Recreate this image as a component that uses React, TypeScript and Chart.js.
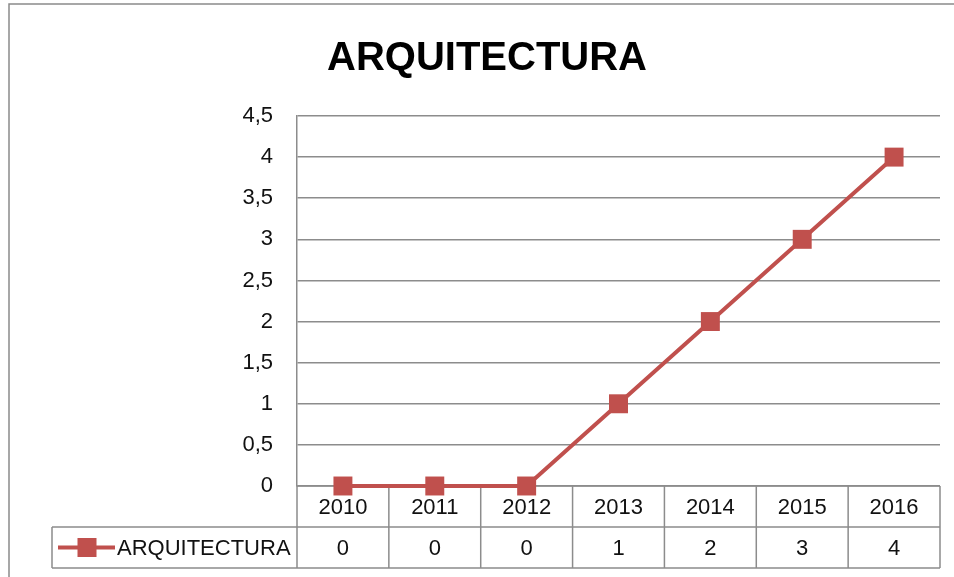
import React, { useEffect, useRef } from "react";
import { Chart, registerables } from "chart.js";

Chart.register(...registerables);

const title = "ARQUITECTURA";
const seriesName = "ARQUITECTURA";
const years = ["2010", "2011", "2012", "2013", "2014", "2015", "2016"];
const values = [0, 0, 0, 1, 2, 3, 4];
const yMin = 0;
const yMax = 4.5;
const yStep = 0.5;

const LINE_COLOR = "#C0504D";
const GRID_COLOR = "#8C8C8C";
const FONT = "Liberation Sans";
const FONT_SIZE = 22;

const tablePlugin = {
  id: "dataTable",
  beforeDatasetsDraw(chart: any) {
    const ctx = chart.ctx;
    const area = chart.chartArea;
    const xs = chart.scales.x;
    const rowH = 41;
    const legendLeft = 52;
    const colW = xs.getPixelForValue(1) - xs.getPixelForValue(0);
    const top = area.bottom;
    const r1 = top + rowH;
    const r2 = r1 + rowH;
    ctx.save();
    ctx.strokeStyle = GRID_COLOR;
    ctx.lineWidth = 1.5;
    ctx.beginPath();
    ctx.moveTo(area.left, top);
    ctx.lineTo(area.right, top);
    ctx.moveTo(legendLeft, r1);
    ctx.lineTo(area.right, r1);
    ctx.moveTo(legendLeft, r2);
    ctx.lineTo(area.right, r2);
    ctx.moveTo(legendLeft, r1);
    ctx.lineTo(legendLeft, r2);
    for (let i = 0; i <= years.length; i++) {
      const x = xs.getPixelForValue(0) - colW / 2 + i * colW;
      ctx.moveTo(x, top);
      ctx.lineTo(x, r2);
    }
    ctx.stroke();

    ctx.fillStyle = "#111";
    ctx.font = `${FONT_SIZE}px "${FONT}"`;
    ctx.textAlign = "center";
    ctx.textBaseline = "middle";
    years.forEach((y, i) => {
      const x = xs.getPixelForValue(i);
      ctx.fillText(y, x, top + rowH / 2 + 1);
      ctx.fillText(String(values[i]).replace(".", ","), x, r1 + rowH / 2 + 1);
    });

    // legend key
    const ly = r1 + rowH / 2;
    ctx.strokeStyle = LINE_COLOR;
    ctx.lineWidth = 4;
    ctx.beginPath();
    ctx.moveTo(58, ly);
    ctx.lineTo(115, ly);
    ctx.stroke();
    ctx.fillStyle = LINE_COLOR;
    ctx.fillRect(87 - 9.5, ly - 9.5, 19, 19);
    ctx.fillStyle = "#111";
    ctx.textAlign = "left";
    ctx.fillText(seriesName, 117, ly + 1);

    // outer chart border
    ctx.strokeStyle = "#8A8A8A";
    ctx.lineWidth = 1.5;
    ctx.beginPath();
    ctx.moveTo(9, chart.height);
    ctx.lineTo(9, 4);
    ctx.lineTo(chart.width, 4);
    ctx.stroke();

    // title
    ctx.fillStyle = "#000";
    ctx.font = `bold 40px "${FONT}"`;
    ctx.textAlign = "center";
    ctx.textBaseline = "middle";
    ctx.fillText(title, 487, 59);
    ctx.restore();
  },
};

export default function App() {
  const ref = useRef<HTMLCanvasElement>(null);
  useEffect(() => {
    if (!ref.current) return;
    const chart = new Chart(ref.current, {
      type: "line",
      data: {
        labels: years,
        datasets: [
          {
            label: seriesName,
            data: values,
            borderColor: LINE_COLOR,
            backgroundColor: LINE_COLOR,
            borderWidth: 4,
            pointStyle: "rect",
            pointRadius: 13.4,
            pointHoverRadius: 13.4,
            pointBorderWidth: 0,
            tension: 0,
            clip: false,
          } as any,
        ],
      },
      options: {
        responsive: false,
        animation: false,
        layout: { padding: { top: 116, bottom: 91, right: 14, left: 0 } },
        plugins: {
          legend: { display: false },
          title: { display: false },
          tooltip: { enabled: false },
        },
        scales: {
          x: {
            display: false,
            offset: true,
          },
          y: {
            min: yMin,
            max: yMax,
            afterFit: (s: any) => {
              s.width = 297;
            },
            border: { display: true, color: GRID_COLOR, width: 1.5 },
            grid: { color: GRID_COLOR, lineWidth: 1.5, drawTicks: false },
            ticks: {
              stepSize: yStep,
              padding: 24,
              color: "#111",
              font: { family: FONT, size: FONT_SIZE },
              callback: (v: any) => String(v).replace(".", ","),
            },
          },
        },
      },
      plugins: [tablePlugin],
    });
    return () => chart.destroy();
  }, []);
  return (
    <div style={{ position: "fixed", left: 0, top: 0, width: 954, height: 577, background: "#fff" }}>
      <canvas ref={ref} width={954} height={577} style={{ width: 954, height: 577, display: "block" }} />
    </div>
  );
}
